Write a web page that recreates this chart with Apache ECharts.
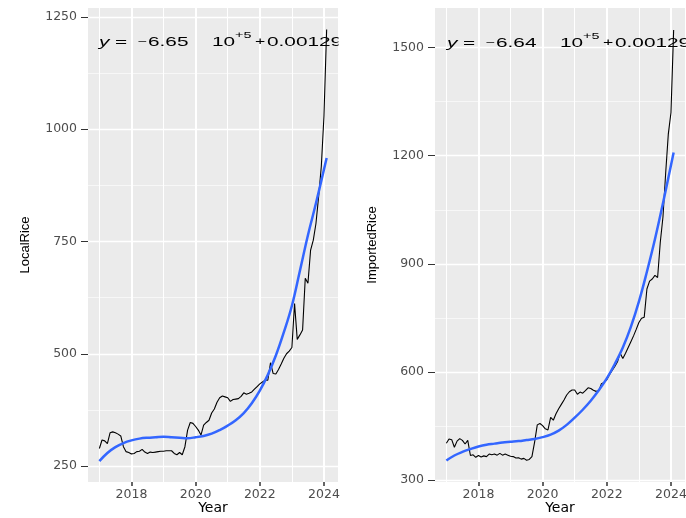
<!DOCTYPE html>
<html>
<head>
<meta charset="utf-8">
<script src="https://cdn.jsdelivr.net/npm/echarts@6/dist/echarts.min.js"></script>
<style>
  html, body { margin: 0; padding: 0; background: #fff; }
  #chart { width: 686px; height: 518px; }
</style>
</head>
<body>
<div id="chart"></div>
<script>
// monthly prices, Jan 2017 .. Feb 2024
const startYear = 2017;

const localRice = [
    289, 308, 306, 300, 324, 326, 324, 321, 317, 293,
    282, 280, 277, 278, 282, 283, 287, 281, 278, 281,
    280, 281, 282, 283, 283, 284, 284, 284, 278, 275,
    280, 275, 293, 330, 347, 345, 338, 330, 319, 341,
    347, 352, 368, 377, 392, 402,
    406, 404, 402, 394, 398, 399, 400, 405, 413, 410,
    412, 415, 421, 427, 433, 437, 441, 441,
    480, 456, 455, 465, 477, 490, 500, 506,
    514, 612, 532, 542, 553, 668, 657, 731, 753, 790,
    850, 917, 1030, 1222
];

const importedRice = [
    402, 414, 412, 391, 408, 415, 410, 400, 410, 368,
    370, 363, 368, 364, 367, 365, 372, 370, 372, 369,
    374, 369, 372, 369, 366, 365, 361, 362, 358, 360,
    355, 357, 365, 405, 453, 457,
    451, 442, 439, 474, 466, 484, 498, 510, 522, 536,
    545, 550, 550, 538, 544, 541, 548, 556, 554, 549,
    546, 548, 567, 571, 578,
    592, 604, 615, 628, 652, 637, 652, 668, 684, 700,
    718, 737, 749, 752, 830, 852, 858, 868, 862,
    960, 1030, 1150, 1260, 1320, 1549
];

// blue trend curve, every quarter
const fitYears = [
    2017, 2017.25, 2017.5, 2017.75, 2018, 2018.25, 2018.5, 2018.75,
    2019, 2019.25, 2019.5, 2019.75, 2020, 2020.25, 2020.5, 2020.75,
    2021, 2021.25, 2021.5, 2021.75, 2022, 2022.25, 2022.5, 2022.75,
    2023, 2023.25, 2023.5, 2023.75, 2024.083
];
const localFit = [
    261, 279, 292, 301, 307, 311, 313, 314,
    315, 314, 313, 312, 314, 317, 322, 330,
    340, 352, 368, 390, 418, 453, 496, 548,
    607, 685, 764, 835, 936
];
const importedFit = [
    354, 368, 378, 386, 393, 398, 401, 404,
    406, 408, 411, 414, 419, 426, 437, 453,
    473, 495, 520, 549, 582, 622, 668, 725,
    795, 878, 968, 1068, 1209
];

// ticks
const xTicks = [2018, 2020, 2022, 2024];
const xMinor = [2017, 2019, 2021, 2023];
const localTicks = [250, 500, 750, 1000, 1250];
const localMinor = [375, 625, 875, 1125];
const importedTicks = [300, 600, 900, 1200, 1500];
const importedMinor = [450, 750, 1050, 1350];

const localCoef = '6.65';
const importedCoef = '6.64';

const GREY = '#4D4D4D';
const SANS = "'Liberation Sans', Arial, sans-serif";

function monthly(values) {
    return values.map((v, i) => [startYear + i / 12, v]);
}

function withYears(years, values) {
    return years.map((t, i) => [t, values[i]]);
}

// panel grid lines (white on grey), drawn as markLines under the data
function gridLines(i, yMajor, yMinor) {
    let data = [];
    xMinor.forEach(v => data.push({xAxis: v, lineStyle: {width: 1}}));
    xTicks.forEach(v => data.push({xAxis: v, lineStyle: {width: 2}}));
    yMinor.forEach(v => data.push({yAxis: v, lineStyle: {width: 0.6}}));
    yMajor.forEach(v => data.push({yAxis: v, lineStyle: {width: 1.3}}));
    return {
        type: 'line',
        xAxisIndex: i,
        yAxisIndex: i,
        data: [],
        z: 1,
        silent: true,
        markLine: {
            silent: true,
            z: 1,
            symbol: ['none', 'none'],
            label: {show: false},
            emphasis: {disabled: true},
            lineStyle: {color: '#FFFFFF', type: 'solid'},
            animation: false,
            data: data
        }
    };
}

function xAxisFor(i) {
    return {
        gridIndex: i,
        type: 'value',
        min: 2016.646,
        max: 2024.437,
        name: 'Year',
        nameLocation: 'middle',
        nameGap: 19,
        nameMoveOverlap: false,
        nameTextStyle: {fontFamily: 'DejaVu Sans', fontSize: 14, color: '#000'},
        axisLine: {show: false},
        axisTick: {show: true, length: 4, customValues: xTicks, lineStyle: {color: '#333', width: 1.5}},
        axisLabel: {customValues: xTicks, margin: 6, color: GREY, fontFamily: 'DejaVu Sans', fontSize: 12.5,
            formatter: v => String(v)},
        splitLine: {show: false}
    };
}

function yAxisFor(i, name, min, max, ticks) {
    return {
        gridIndex: i,
        type: 'value',
        min: min,
        max: max,
        name: name,
        nameLocation: 'middle',
        nameGap: 56,
        nameMoveOverlap: false,
        nameTextStyle: {fontFamily: SANS, fontSize: 13, color: '#000'},
        axisLine: {show: false},
        axisTick: {show: true, length: 7, customValues: ticks, lineStyle: {color: '#333', width: 1}},
        axisLabel: {customValues: ticks, margin: 11, color: GREY, fontFamily: 'DejaVu Sans', fontSize: 12.5,
            formatter: v => String(v)},
        splitLine: {show: false}
    };
}

// equation text, stretched like the source image
function equation(x0, yc, coef) {
    const parts = [
        ['y', 0, 13, 'italic', 0],
        ['=', 16, 13, 'normal', 0],
        ['\u2212', 39, 10, 'normal', 0],
        [coef, 49, 13, 'normal', 0],
        ['10', 113, 13, 'normal', 0],
        ['+5', 136, 9, 'normal', -6],
        ['+', 156, 11, 'normal', 0],
        ['0.00129', 168, 13, 'normal', 0]
    ];
    return parts.map(p => ({
        type: 'text',
        x: x0 + p[1],
        y: yc + p[4],
        scaleX: 1.6,
        z: 100,
        silent: true,
        style: {
            text: p[0],
            fontFamily: SANS,
            fontSize: p[2],
            fontStyle: p[3],
            fill: '#000',
            verticalAlign: 'middle'
        }
    }));
}

const chart = echarts.init(document.getElementById('chart'), null, {renderer: 'canvas'});

const option = {
    animation: false,
    backgroundColor: '#FFFFFF',
    grid: [
        {left: 88, right: 348, top: 8, bottom: 36, show: true, backgroundColor: '#EBEBEB', borderWidth: 0,
            containLabel: false, outerBoundsMode: 'none'},
        {left: 435, right: 1, top: 8, bottom: 36, show: true, backgroundColor: '#EBEBEB', borderWidth: 0,
            containLabel: false, outerBoundsMode: 'none'}
    ],
    xAxis: [xAxisFor(0), xAxisFor(1)],
    yAxis: [
        yAxisFor(0, 'LocalRice', 214.4, 1270, localTicks),
        yAxisFor(1, 'ImportedRice', 294.5, 1610, importedTicks)
    ],
    series: [
        gridLines(0, localTicks, localMinor),
        gridLines(1, importedTicks, importedMinor),
        {
            type: 'line', xAxisIndex: 0, yAxisIndex: 0, z: 3,
            data: monthly(localRice),
            showSymbol: false, symbol: 'none',
            lineStyle: {color: '#000', width: 1.1}
        },
        {
            type: 'line', xAxisIndex: 0, yAxisIndex: 0, z: 4,
            data: withYears(fitYears, localFit),
            smooth: 0.4,
            showSymbol: false, symbol: 'none',
            lineStyle: {color: '#3366FF', width: 2.5}
        },
        {
            type: 'line', xAxisIndex: 1, yAxisIndex: 1, z: 3,
            data: monthly(importedRice),
            showSymbol: false, symbol: 'none',
            lineStyle: {color: '#000', width: 1.1}
        },
        {
            type: 'line', xAxisIndex: 1, yAxisIndex: 1, z: 4,
            data: withYears(fitYears, importedFit),
            smooth: 0.4,
            showSymbol: false, symbol: 'none',
            lineStyle: {color: '#3366FF', width: 2.5}
        }
    ],
    graphic: {
        elements: equation(99, 42, localCoef)
            .concat(equation(447, 43, importedCoef))
            .concat([{
                // the left equation is cut at the panel edge
                type: 'rect', z: 101, silent: true,
                shape: {x: 338.5, y: 28, width: 12, height: 28},
                style: {fill: '#FFFFFF'}
            }])
    }
};

chart.setOption(option);
</script>
</body>
</html>
